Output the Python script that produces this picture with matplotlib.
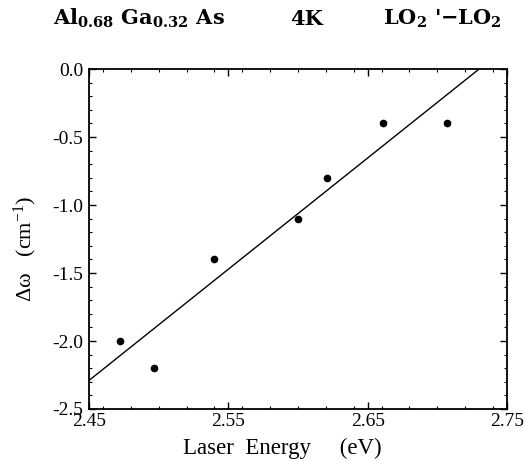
import numpy as np
import matplotlib
matplotlib.use("Agg")
import matplotlib.pyplot as plt
from matplotlib.ticker import MultipleLocator, FixedLocator

plt.rcParams['font.family'] = ['Liberation Serif', 'DejaVu Serif']
plt.rcParams['mathtext.default'] = 'regular'

# measured points
laser_energy = [2.472, 2.497, 2.540, 2.600, 2.621, 2.661, 2.707]
delta_omega = [-2.0, -2.2, -1.4, -1.1, -0.8, -0.4, -0.4]

# straight-line fit as drawn
fit_x = [2.45, 2.730]
fit_y = [-2.29, 0.0]

x_ticks = [2.45, 2.55, 2.65, 2.75]
x_ticklabels = ['2.45', '2.55', '2.65', '2.75']
y_ticks = [0.0, -0.5, -1.0, -1.5, -2.0, -2.5]
y_ticklabels = ['0.0', '-0.5', '-1.0', '-1.5', '-2.0', '-2.5']

title_parts = ["Al$_{0.68}$ Ga$_{0.32}$ As", "4K", "LO$_2$ '$-$LO$_2$"]
title_x = [53, 290, 383]   # left edge of each piece, px

fig = plt.figure(figsize=(5.25, 4.61), dpi=100)
ax = fig.add_axes([0.1695, 0.1128, 0.7962, 0.7375])

ax.plot(fit_x, fit_y, color='black', lw=1.0)
ax.plot(laser_energy, delta_omega, 'o', color='black', ms=4.5)

ax.set_xlim(2.45, 2.75)
ax.set_ylim(-2.5, 0.0)

ax.xaxis.set_major_locator(FixedLocator(x_ticks))
ax.set_xticklabels(x_ticklabels)
ax.xaxis.set_minor_locator(MultipleLocator(0.02))
ax.yaxis.set_major_locator(FixedLocator(y_ticks))
ax.set_yticklabels(y_ticklabels)
ax.yaxis.set_minor_locator(MultipleLocator(0.1))

ax.tick_params(which='both', direction='in', top=True, right=True, labelsize=14)
ax.tick_params(which='major', length=5, width=1)
ax.tick_params(which='minor', length=2.5, width=0.8)
ax.tick_params(axis='x', pad=3)
ax.tick_params(axis='y', pad=4)
for s in ax.spines.values():
    s.set_linewidth(1.3)

ax.set_xlabel('Laser  Energy     (eV)', fontsize=16.5)
ax.xaxis.set_label_coords(0.462, -0.086)
ax.set_ylabel(r'$\Delta\omega$   (cm$^{-1}$)', fontsize=16, va='center')
ax.yaxis.set_label_coords(-0.153, 0.47)

for txt, px in zip(title_parts, title_x):
    fig.text(px / 525, 1 - 25 / 461, txt, fontsize=15, fontweight='bold',
             family='DejaVu Serif', ha='left', va='baseline')

fig.savefig('out.png', dpi=100)
